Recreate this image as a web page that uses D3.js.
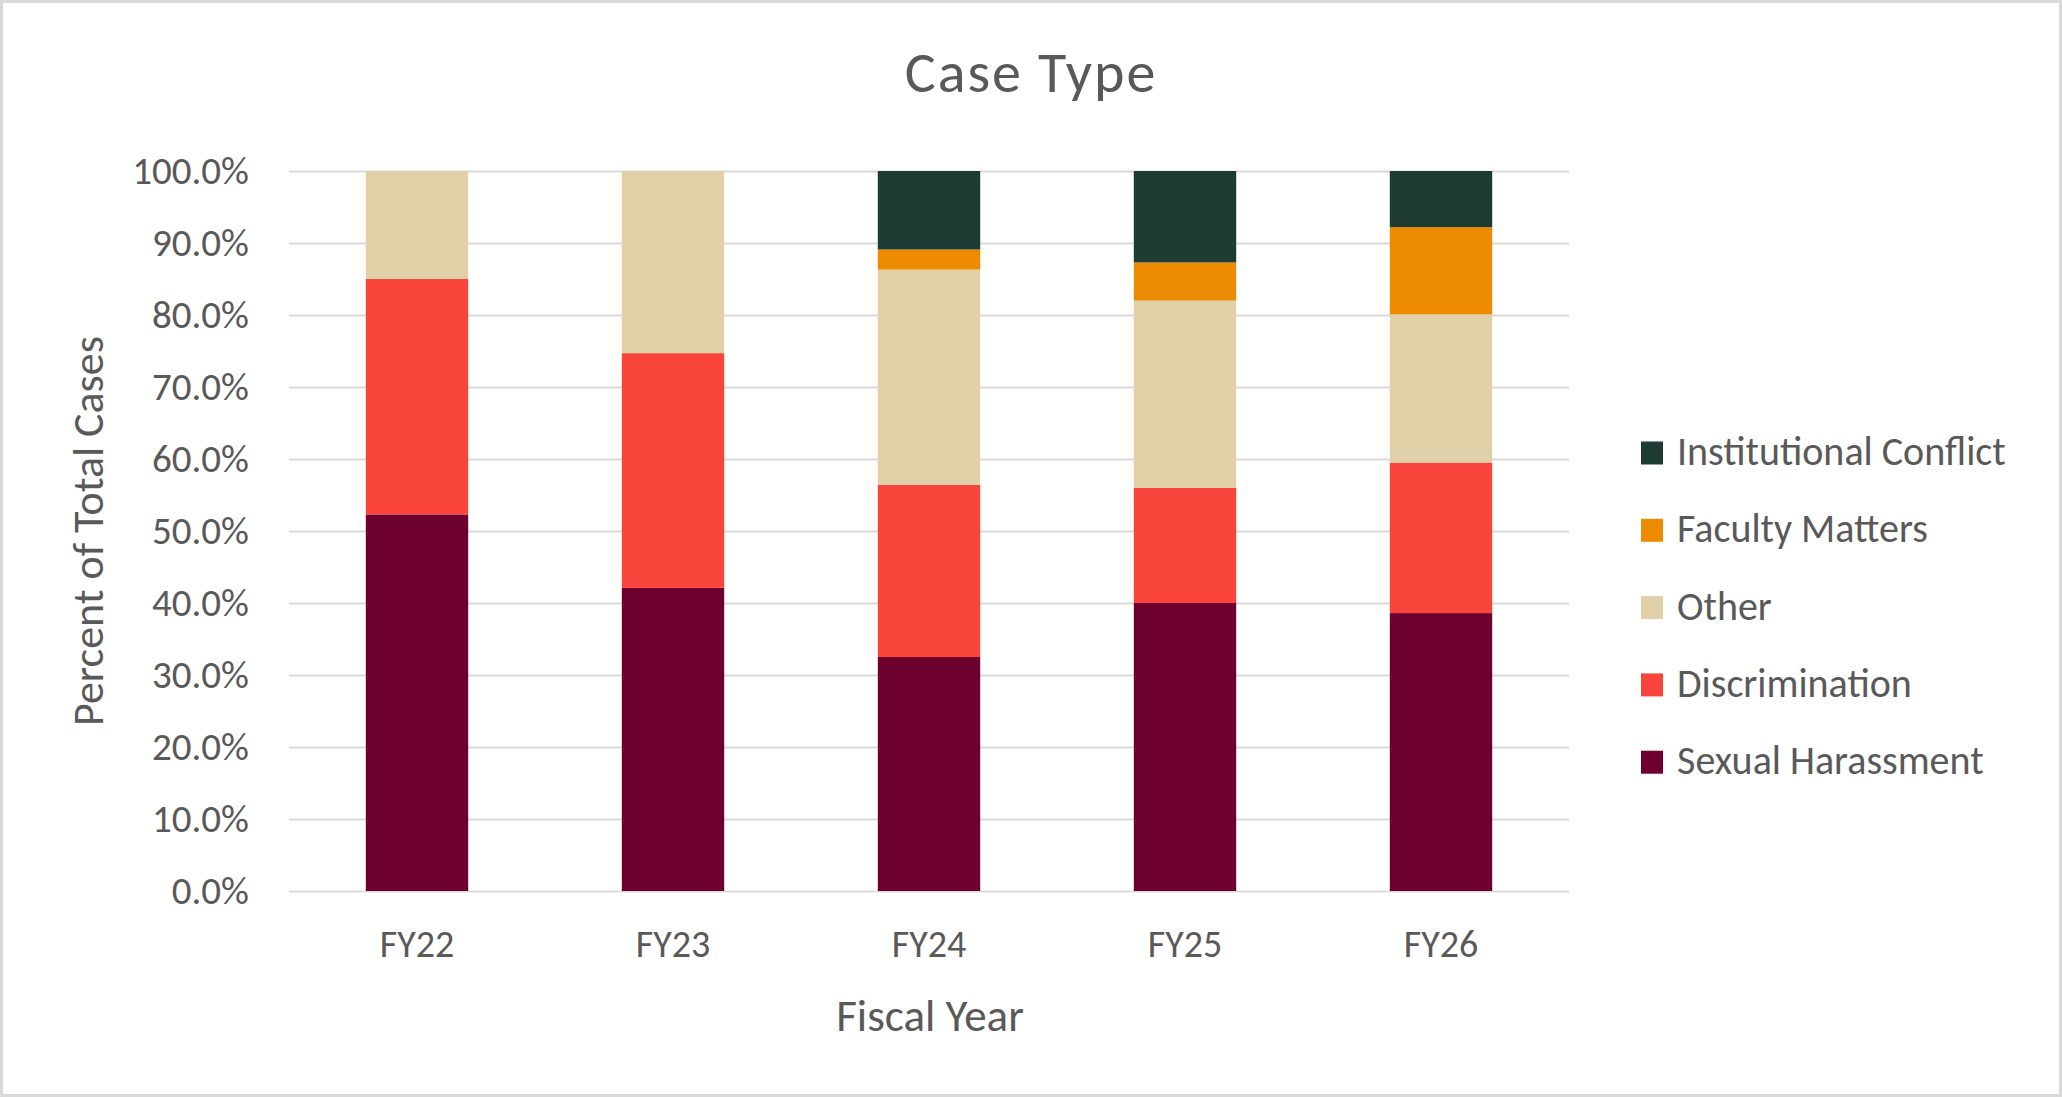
<!DOCTYPE html>
<html>
<head>
<meta charset="utf-8">
<script src="https://cdn.jsdelivr.net/npm/d3@7"></script>
<style>
  body { margin: 0; background: #fff; }
  text { font-family: Carlito, Calibri, Lato, sans-serif; fill: #595959; }
</style>
</head>
<body>
<div id="chart"></div>
<script>
const years = ["FY22", "FY23", "FY24", "FY25", "FY26"];
const seriesNames = ["Sexual Harassment", "Discrimination", "Other", "Faculty Matters", "Institutional Conflict"];
const sexualHarassment = [52.3, 42.1, 32.5, 40.0, 38.6];
const discrimination = [32.7, 32.6, 23.9, 16.0, 20.9];
const other = [15.0, 25.3, 29.9, 26.0, 20.6];
const facultyMatters = [0, 0, 2.8, 5.3, 12.1];
const institutionalConflict = [0, 0, 10.9, 12.7, 7.8];
const yTicks = [0, 10, 20, 30, 40, 50, 60, 70, 80, 90, 100];
const colors = ["#6E0030", "#F9443C", "#DFD0A8", "#EC8B00", "#1E3B34"];

const allSeries = [sexualHarassment, discrimination, other, facultyMatters, institutionalConflict];
const rows = years.map((y, i) => {
  const row = { year: y };
  seriesNames.forEach((s, j) => { row[s] = allSeries[j][i]; });
  return row;
});

const W = 2062, H = 1097;
const margin = { top: 171, right: 493, bottom: 206, left: 289 };
const width = W - margin.left - margin.right;
const height = H - margin.top - margin.bottom;

const root = d3.select("#chart")
  .append("svg")
  .attr("width", W)
  .attr("height", H);

// chart border
root.append("rect")
  .attr("x", 1.5).attr("y", 1.5)
  .attr("width", W - 3).attr("height", H - 3)
  .attr("fill", "#fff")
  .attr("stroke", "#D9D9D9")
  .attr("stroke-width", 3);

const svg = root.append("g")
  .attr("transform", `translate(${margin.left}, ${margin.top})`);

const xScale = d3.scaleBand()
  .domain(years)
  .range([0, width])
  .paddingInner(0.6)
  .paddingOuter(0.3);

const yScale = d3.scaleLinear()
  .domain([0, 100])
  .range([height, 0]);

// y axis with gridlines
const yAxis = svg.append("g")
  .call(d3.axisLeft(yScale)
    .tickValues(yTicks)
    .tickSize(-width)
    .tickPadding(40)
    .tickFormat(d => d.toFixed(1) + "%"));
yAxis.select(".domain").remove();
yAxis.selectAll("line").attr("stroke", "#D9D9D9").attr("stroke-width", 2);
yAxis.selectAll("text")
  .style("font-size", "39px")
  .attr("fill", "#595959");

const stack = d3.stack().keys(seriesNames);
const stacked = stack(rows);

svg.selectAll(".series")
  .data(stacked)
  .join("g")
  .attr("class", "series")
  .attr("fill", (d, i) => colors[i])
  .selectAll("rect")
  .data(d => d)
  .join("rect")
  .attr("x", d => xScale(d.data.year))
  .attr("y", d => yScale(d[1]))
  .attr("width", xScale.bandwidth())
  .attr("height", d => yScale(d[0]) - yScale(d[1]));

// x axis
const xAxis = svg.append("g")
  .attr("transform", `translate(0, ${height})`)
  .call(d3.axisBottom(xScale).tickSize(0).tickPadding(39));
xAxis.select(".domain").remove();
xAxis.selectAll("text")
  .style("font-size", "38px")
  .attr("fill", "#595959");

// title
root.append("text")
  .attr("x", 1031)
  .attr("y", 92)
  .style("text-anchor", "middle")
  .style("font-size", "58px")
  .style("letter-spacing", "2px")
  .text("Case Type");

// axis titles
root.append("text")
  .attr("transform", `translate(103, ${margin.top + height / 2}) rotate(-90)`)
  .style("text-anchor", "middle")
  .style("font-size", "44px")
  .text("Percent of Total Cases");

root.append("text")
  .attr("x", 930)
  .attr("y", 1031)
  .style("text-anchor", "middle")
  .style("font-size", "45px")
  .text("Fiscal Year");

// legend, top to bottom in reverse stack order
const legendOrder = seriesNames.map((s, i) => ({ name: s, color: colors[i] })).reverse();
const legend = root.append("g")
  .selectAll("g")
  .data(legendOrder)
  .join("g")
  .attr("transform", (d, i) => `translate(1641, ${453 + i * 77.3})`);

legend.append("rect")
  .attr("x", 0)
  .attr("y", -11.5)
  .attr("width", 22)
  .attr("height", 23)
  .attr("fill", d => d.color);

legend.append("text")
  .attr("x", 36)
  .attr("y", 12)
  .style("font-size", "40px")
  .text(d => d.name);
</script>
</body>
</html>
